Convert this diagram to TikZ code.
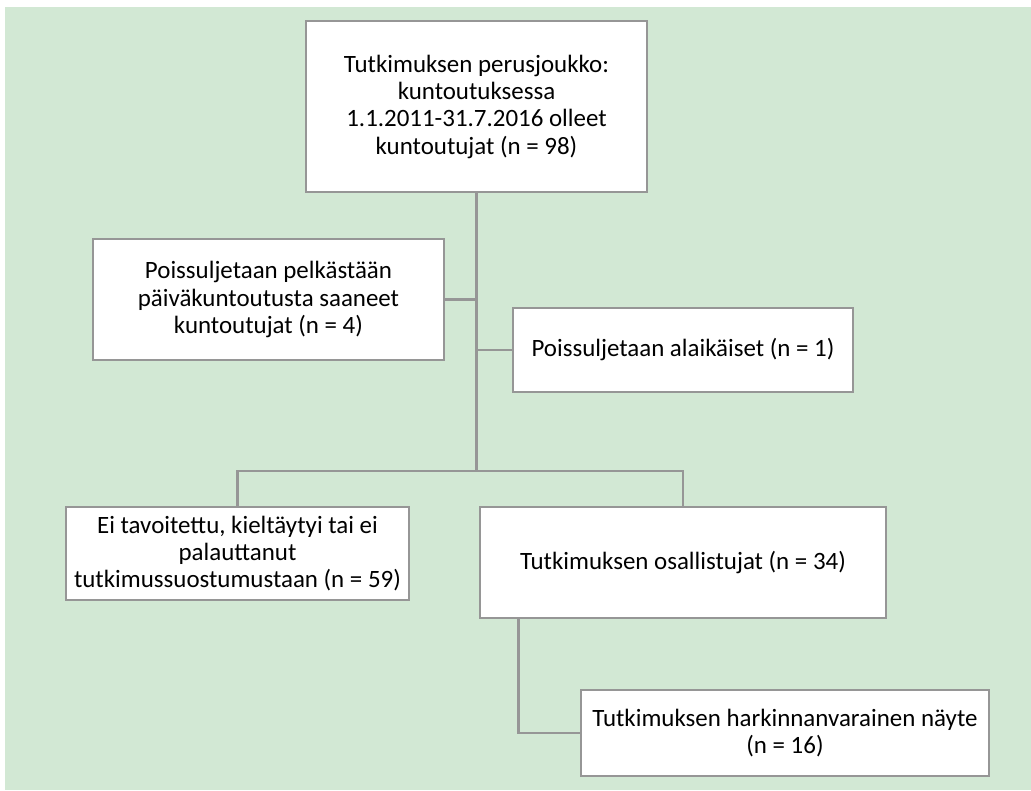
\documentclass[tikz,border=0pt]{standalone}
\usepackage{fontspec}
\setmainfont{Carlito}
\definecolor{bggreen}{RGB}{210,232,212}
\definecolor{boxgray}{RGB}{150,150,150}
\tikzset{every picture/.style={line width=2pt}}
\tikzset{
  flowbox/.style={draw=boxgray, fill=white, align=center, inner sep=0pt, font=\fontsize{18.7}{20.5}\selectfont},
  link/.style={draw=boxgray, line width=2pt}
}

\begin{document}
\begin{tikzpicture}[x=0.75pt,y=0.75pt,yscale=-1,xscale=1]
\useasboundingbox (0,0) rectangle (1031,790);

%Shape: Rectangle [background]
\fill [bggreen] (5,7) rectangle (1031,790);

% Text Node
\node (top) [flowbox, minimum width=255.75pt, minimum height=128.25pt] at (476.5,106.5) {Tutkimuksen perusjoukko:\\kuntoutuksessa\\1.1.2011-31.7.2016 olleet\\kuntoutujat (n = 98)};
% Text Node
\node (excl1) [flowbox, minimum width=263.25pt, minimum height=90.75pt] at (268.5,299.5) {Poissuljetaan pelkästään\\päiväkuntoutusta saaneet\\kuntoutujat (n = 4)};
% Text Node
\node (excl2) [flowbox, minimum width=255pt, minimum height=63pt] at (683,350) {Poissuljetaan alaikäiset (n = 1)};
% Text Node
\node (drop) [flowbox, minimum width=257.25pt, minimum height=69.75pt] at (237.5,553.5) {Ei tavoitettu, kieltäytyi tai ei\\palauttanut\\tutkimussuostumustaan (n = 59)};
% Text Node
\node (part) [flowbox, minimum width=304.5pt, minimum height=83.25pt] at (683,562.5) {Tutkimuksen osallistujat (n = 34)};
% Text Node
\node (sample) [flowbox, minimum width=306pt, minimum height=64.5pt] at (785,733) {Tutkimuksen harkinnanvarainen näyte\\(n = 16)};

%Straight Lines [trunk]
\coordinate (split) at (476.5,471);
\draw [link] (top.south) -- (split);
\draw [link] (excl1.east) -- (excl1.east -| top.south);
\draw [link] (excl2.west) -- (excl2.west -| top.south);
%Straight Lines [branches]
\draw [link] (drop.north) |- (split) -| (part.north);
\draw [link] ([xshift=30pt]part.south west) |- (sample.west);

\end{tikzpicture}
\end{document}
